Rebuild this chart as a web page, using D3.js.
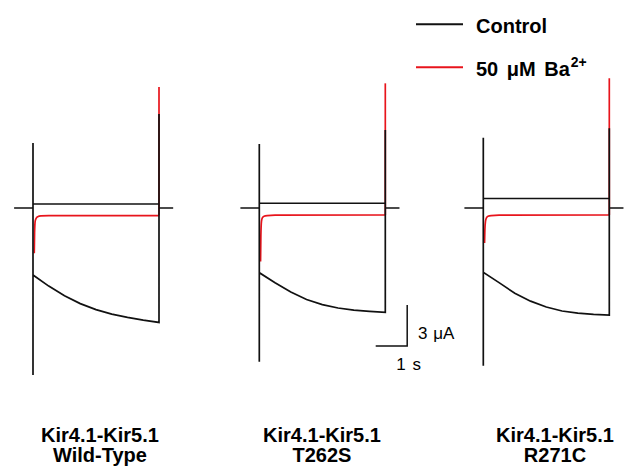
<!DOCTYPE html>
<html>
<head>
<meta charset="utf-8">
<script src="https://cdn.jsdelivr.net/npm/d3@7"></script>
<style>
  html, body { margin: 0; padding: 0; background: #fff; }
  svg { display: block; }
  text { font-family: "Liberation Sans", Arial, Helvetica, sans-serif; fill: #000; }
</style>
</head>
<body>
<svg id="chart" width="627" height="470"></svg>
<script>
// ---------------- DATA (time in s, current in µA) ----------------
const panelNames = ["Wild-Type", "T262S", "R271C"];
const constructName = "Kir4.1-Kir5.1";
const seriesNames = ["Control", "50 \u03BCM Ba"];

// Control (black) trace during the 4 s step
const controlTime = [0, 0.5, 1, 1.5, 2, 2.5, 3, 3.5, 4];
const controlWT    = [-4.89, -5.70, -6.40, -6.98, -7.42, -7.75, -7.98, -8.18, -8.35];
const controlT262S = [-4.72, -5.45, -6.13, -6.68, -7.05, -7.30, -7.45, -7.54, -7.61];
const controlR271C = [-4.69, -5.45, -6.22, -6.80, -7.23, -7.52, -7.67, -7.76, -7.81];

// 50 µM Ba2+ (red) trace during the step
const bariumTime = [0.04, 0.05, 0.07, 0.1, 0.15, 0.25, 0.5, 4];
const bariumWT    = [-3.30, -1.80, -0.95, -0.75, -0.64, -0.58, -0.56, -0.55];
const bariumT262S = [-3.90, -2.00, -0.95, -0.70, -0.60, -0.55, -0.52, -0.51];
const bariumR271C = [-2.55, -1.60, -0.95, -0.72, -0.60, -0.55, -0.52, -0.51];

// Capacitive transient at step onset [top, bottom]
const onsetTransient = [[4.74, -12.19], [4.67, -11.22], [5.13, -11.51]];
// Tail current peaks at step offset
const controlTail = [6.86, 5.69, 5.82];
const bariumTail  = [8.83, 9.10, 9.47];
// Upper flat trace level during the step
const upperLevel = [0.29, 0.34, 0.70];

// Holding periods before/after the step (s)
const preHold = -0.6, stepEnd = 4, postHold = 4.45;

// Scale bar
const scaleBarTime = 1;     // s
const scaleBarCurrent = 3;  // µA

// ---------------- DRAWING ----------------
const svg = d3.select("#chart");
const pxPerSec = 31.5;
const panelX0 = [33, 259.3, 483.3];
const labelCx = [100, 322, 555];

const y = d3.scaleLinear().domain([-12, 9]).range([208 + 12 * 13.7, 208 - 9 * 13.7]);

const controls = [controlWT, controlT262S, controlR271C];
const bariums = [bariumWT, bariumT262S, bariumR271C];

const line = d3.line().x(d => d[0]).y(d => d[1]);
const smooth = d3.line().x(d => d[0]).y(d => d[1]).curve(d3.curveMonotoneX);

panelNames.forEach((name, i) => {
  const x = d3.scaleLinear().domain([0, 4]).range([panelX0[i], panelX0[i] + 4 * pxPerSec]);
  const g = svg.append("g");

  // red trace (drawn first, black on top)
  const red = bariumTime.map((t, k) => [x(t), y(bariums[i][k])]);
  g.append("path").attr("d", smooth(red))
    .attr("fill", "none").attr("stroke", "#e8141c").attr("stroke-width", 1.7);
  g.append("path").attr("d", line([[x(stepEnd), y(bariums[i][bariums[i].length - 1])],
                                   [x(stepEnd), y(bariumTail[i])]]))
    .attr("fill", "none").attr("stroke", "#e8141c").attr("stroke-width", 1.7);

  // upper flat line
  g.append("path").attr("d", line([[x(0), y(upperLevel[i])], [x(stepEnd), y(upperLevel[i])]]))
    .attr("fill", "none").attr("stroke", "#111").attr("stroke-width", 1.5);

  // control trace
  const blk = [[x(preHold), y(0)], [x(0), y(0)],
               [x(0), y(onsetTransient[i][0])], [x(0), y(onsetTransient[i][1])],
               [x(0), y(controls[i][0])]];
  controlTime.forEach((t, k) => blk.push([x(t), y(controls[i][k])]));
  blk.push([x(stepEnd), y(controlTail[i])]);
  blk.push([x(stepEnd), y(0)]);
  blk.push([x(postHold), y(0)]);
  g.append("path").attr("d", line(blk))
    .attr("fill", "none").attr("stroke", "#111").attr("stroke-width", 1.7)
    .attr("stroke-linejoin", "miter");

  // labels
  g.append("text").attr("x", labelCx[i]).attr("y", 441.5)
    .attr("text-anchor", "middle").attr("font-size", 20).attr("font-weight", "bold")
    .text(constructName);
  g.append("text").attr("x", labelCx[i]).attr("y", 462)
    .attr("text-anchor", "middle").attr("font-size", 20).attr("font-weight", "bold")
    .text(name);
});

// scale bar
const sx = d3.scaleLinear().domain([0, scaleBarTime]).range([375.7, 375.7 + pxPerSec * scaleBarTime]);
const sbBottom = 346;
const sbTop = sbBottom - (y(0) - y(scaleBarCurrent));
svg.append("path")
  .attr("d", line([[sx(0), sbBottom], [sx(scaleBarTime), sbBottom], [sx(scaleBarTime), sbTop]]))
  .attr("fill", "none").attr("stroke", "#111").attr("stroke-width", 1.5);
svg.append("text").attr("x", 418).attr("y", 338.5).attr("font-size", 17)
  .attr("word-spacing", 1).text(scaleBarCurrent + " \u03BCA");
svg.append("text").attr("x", sx(scaleBarTime) + 1.5).attr("y", 370).attr("font-size", 17)
  .attr("word-spacing", 2).attr("text-anchor", "middle").text(scaleBarTime + " s");

// legend
const legend = svg.append("g");
const legendColors = ["#111", "#e8141c"];
const legendY = [24.3, 67.3];
seriesNames.forEach((s, i) => {
  legend.append("line").attr("x1", 416).attr("x2", 463)
    .attr("y1", legendY[i]).attr("y2", legendY[i])
    .attr("stroke", legendColors[i]).attr("stroke-width", 2);
  const t = legend.append("text").attr("x", 476).attr("y", legendY[i] + 8.5)
    .attr("font-size", 20).attr("font-weight", "bold").text(s);
  if (i === 1) {
    t.attr("word-spacing", 3);
    t.append("tspan").attr("font-size", 14).attr("dy", -9).attr("dx", 1).text("2+");
  }
});
</script>
</body>
</html>
